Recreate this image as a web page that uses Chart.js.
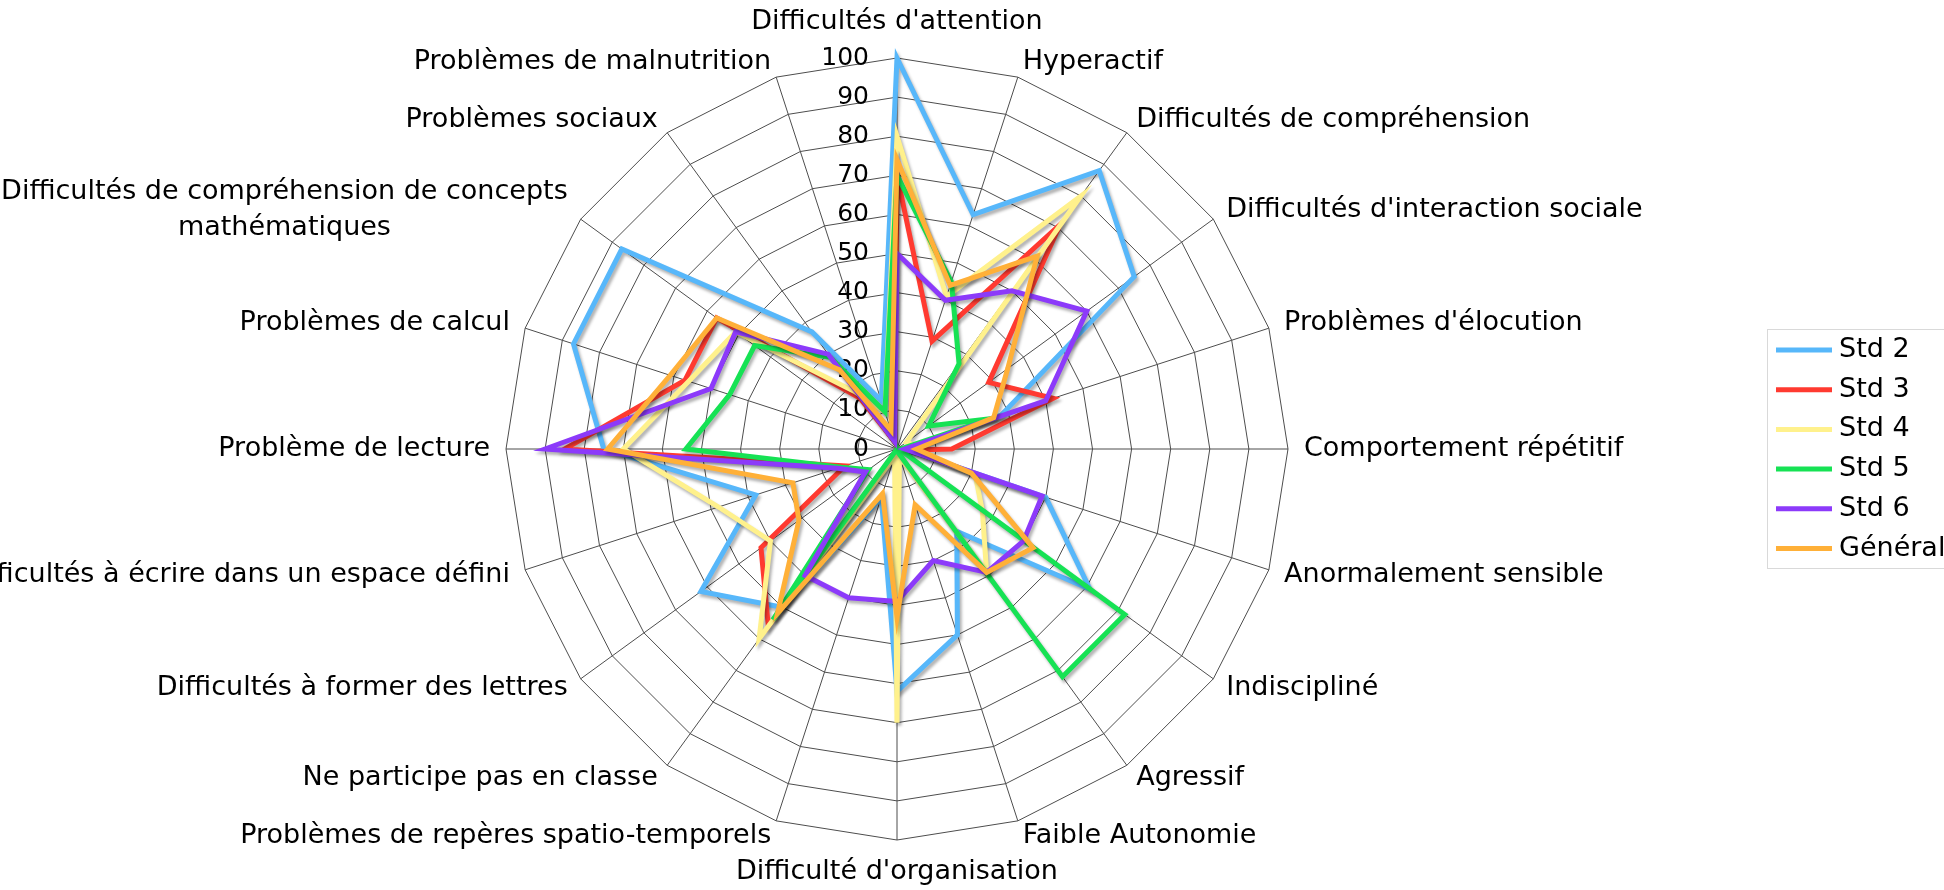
<!DOCTYPE html>
<html>
<head>
<meta charset="utf-8">
<title>Radar</title>
<script src="https://cdn.jsdelivr.net/npm/chart.js@4"></script>
<style>
    html, body { margin: 0; padding: 0; background: #fff; overflow: hidden; }
    .chart-box { position: relative; width: 1944px; height: 890px; }
</style>
</head>
<body>
<div class="chart-box"><canvas id="radarChart"></canvas></div>
<script>
// 类别
const categories = [
    "Difficultés d'attention",
    'Hyperactif',
    'Difficultés de compréhension',
    "Difficultés d'interaction sociale",
    "Problèmes d'élocution",
    'Comportement répétitif',
    'Anormalement sensible',
    'Indiscipliné',
    'Agressif',
    'Faible Autonomie',
    "Difficulté d'organisation",
    'Problèmes de repères spatio-temporels',
    'Ne participe pas en classe',
    'Difficultés à former des lettres',
    'Difficultés à écrire dans un espace défini',
    'Problème de lecture',
    'Problèmes de calcul',
    ['Difficultés de compréhension de concepts', 'mathématiques'],
    'Problèmes sociaux',
    'Problèmes de malnutrition'
];

// 数据
const std2 = [100, 63, 88, 75, 28, 2, 40, 61, 26, 50, 62, 13, 50, 62, 38, 75, 87, 87, 37, 13];
const std3 = [70, 29, 71, 29, 42, 14, 1, 0, 0, 0, 0, 1, 56, 43, 14, 85, 57, 57, 16, 2];
const std4 = [80, 41, 80, 3, 4, 3, 21, 27, 39, 2, 70, 2, 60, 40, 48, 70, 56, 51, 18, 10];
const std5 = [70, 45, 27, 10, 25, 1, 1, 72, 72, 1, 0, 0, 54, 9, 15, 54, 45, 45, 29, 10];
const std6 = [50, 40, 50, 60, 40, 2, 39, 40, 39, 30, 39, 40, 40, 10, 16, 90, 50, 51, 30, 2];
const general = [74, 44, 61, 35, 26, 5, 20, 43, 39, 15, 43, 12, 52, 31, 28, 74, 61, 57, 25, 5];

const seriesNames = ['Std 2', 'Std 3', 'Std 4', 'Std 5', 'Std 6', 'Général'];
const seriesColors = ['#57b7fa', '#ff3a30', '#fff18c', '#16e254', '#8c3afa', '#ffb038'];
const tickValues = [0, 10, 20, 30, 40, 50, 60, 70, 80, 90, 100];

const FONT = '"DejaVu Sans", Verdana, sans-serif';

// 刻度、标签、图例和阴影
const excelLook = {
    id: 'excelLook',
    beforeDatasetsDraw(chart) {
        const r = chart.scales.r;
        const ctx = chart.ctx;
        ctx.save();
        ctx.fillStyle = '#000';
        ctx.font = '25px ' + FONT;
        ctx.textAlign = 'right';
        ctx.textBaseline = 'middle';
        tickValues.forEach(v => {
            const d = r.getDistanceFromCenterForValue(v);
            ctx.fillText(String(v), r.xCenter - 28, r.yCenter - d);
        });
        ctx.restore();

        // 线条阴影
        ctx.save();
        ctx.shadowColor = 'rgba(0, 0, 0, 0.3)';
        ctx.shadowBlur = 3;
        ctx.shadowOffsetX = 2;
        ctx.shadowOffsetY = 3;
    },
    afterDatasetsDraw(chart) {
        chart.ctx.restore();
    },
    afterDraw(chart) {
        const r = chart.scales.r;
        const ctx = chart.ctx;
        const n = categories.length;
        ctx.save();
        ctx.fillStyle = '#000';
        ctx.font = '27px ' + FONT;
        ctx.textBaseline = 'middle';

        categories.forEach((lab, i) => {
            const angle = Math.round(i * 360 / n);
            const p = r.getPointPosition(i, r.drawingArea + 16);
            const lines = Array.isArray(lab) ? lab : [lab];
            const lineH = 36;
            let y = p.y - (lines.length - 1) * lineH / 2;

            if (angle === 0 || angle === 180) {
                ctx.textAlign = 'center';
                y += angle === 0 ? -20 : 16;
                lines.forEach((t, k) => ctx.fillText(t, p.x, y + k * lineH));
                return;
            }
            // 多行标签在块内居中
            const blockW = Math.max(...lines.map(t => ctx.measureText(t).width));
            const cx = angle < 180 ? p.x + blockW / 2 : p.x - blockW / 2;
            ctx.textAlign = 'center';
            lines.forEach((t, k) => ctx.fillText(t, cx, y + k * lineH));
        });

        // 图例
        const lx = 1767, ly = 329;
        ctx.strokeStyle = '#d9d9d9';
        ctx.lineWidth = 1;
        ctx.strokeRect(lx + 0.5, ly + 0.5, 300, 239);
        ctx.textAlign = 'left';
        chart.data.datasets.forEach((ds, k) => {
            const y = 350 + k * 39.7;
            ctx.strokeStyle = ds.borderColor;
            ctx.lineWidth = 5;
            ctx.beginPath();
            ctx.moveTo(1776, y);
            ctx.lineTo(1832, y);
            ctx.stroke();
            ctx.fillStyle = '#000';
            ctx.fillText(ds.label, 1839, y);
        });
        ctx.restore();
    }
};

const allSeries = [std2, std3, std4, std5, std6, general];

const ctx = document.getElementById('radarChart').getContext('2d');
const chart = new Chart(ctx, {
    type: 'radar',
    data: {
        labels: categories,
        datasets: allSeries.map((values, i) => ({
            label: seriesNames[i],
            data: values,
            borderColor: seriesColors[i],
            backgroundColor: 'transparent',
            borderWidth: 5,
            borderJoinStyle: 'miter',
            fill: false,
            pointRadius: 0,
            pointHoverRadius: 0,
            tension: 0,
            clip: false,
            order: allSeries.length - i
        }))
    },
    options: {
        responsive: true,
        maintainAspectRatio: false,
        animation: false,
        devicePixelRatio: 1,
        layout: {
            padding: { left: 506, right: 656, top: 58, bottom: 50 }
        },
        scales: {
            r: {
                min: 0,
                max: 100,
                ticks: { stepSize: 10, display: false },
                grid: { color: '#4d4d4d', lineWidth: 1 },
                angleLines: { color: '#4d4d4d', lineWidth: 1 },
                pointLabels: { display: false }
            }
        },
        plugins: {
            legend: { display: false },
            tooltip: { enabled: false }
        }
    },
    plugins: [excelLook]
});
</script>
</body>
</html>
